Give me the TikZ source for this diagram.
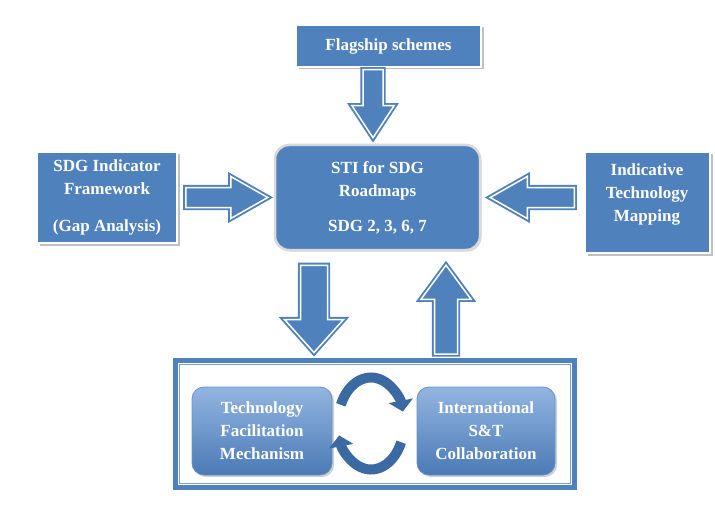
\documentclass[tikz,border=0pt]{standalone}
\usepackage{fontspec}
\setmainfont{Liberation Serif}
\usetikzlibrary{calc,shadows,arrows.meta}
\definecolor{ob}{HTML}{4F81BD}
\definecolor{obd}{HTML}{3B6AA3}
\definecolor{obl}{HTML}{93B5E0}
\definecolor{obm}{HTML}{6891CB}
\definecolor{obb}{HTML}{4A7AB6}
\begin{document}
\begin{tikzpicture}[x=1pt,y=-1pt,
  txt/.style={text=white, font=\fontsize{17}{23}\selectfont\bfseries, align=center},
  sqbox/.style={txt, rectangle, fill=ob, draw=white, line width=1.5pt, inner sep=0pt,
    drop shadow={shadow xshift=2.5pt, shadow yshift=-2.5pt, fill=black!35, opacity=0.7}},
  stibox/.style={txt, rectangle, rounded corners=14pt, fill=ob, draw=black!15, line width=2.5pt, inner sep=0pt,
    drop shadow={shadow xshift=1.5pt, shadow yshift=-1.5pt, fill=black!25, opacity=0.6}},
  rbox/.style={txt, rectangle, rounded corners=12pt, top color=obl, middle color=obm, bottom color=obb,
    draw=obm, line width=0.8pt, inner sep=0pt,
    drop shadow={shadow xshift=2pt, shadow yshift=-2pt, fill=black!30, opacity=0.6}},
  framebox/.style={rectangle, draw=ob, line width=5pt, fill=white, inner sep=0pt},
  arrowline/.style={fill=ob, draw=ob, double=white, line width=1.9pt, double distance=1.5pt, line join=miter},
  barrow/.style n args={3}{arrowline, to path={
    ($(\tikztostart)!#1!90:(\tikztotarget)$)
    -- ($(\tikztotarget)!#3!(\tikztostart)!#1!90:(\tikztotarget)$)
    -- ($(\tikztotarget)!#3!(\tikztostart)!#2!90:(\tikztotarget)$)
    -- (\tikztotarget)
    -- ($(\tikztotarget)!#3!(\tikztostart)!#2!-90:(\tikztotarget)$)
    -- ($(\tikztotarget)!#3!(\tikztostart)!#1!-90:(\tikztotarget)$)
    -- ($(\tikztostart)!#1!-90:(\tikztotarget)$)
    -- cycle}},
  cycarrow/.style={draw=obd, line width=10pt, -{Triangle[length=11pt,width=24pt]}}
]
\fill[white] (0,0) rectangle (715,516);
\useasboundingbox (0,0) rectangle (715,516);

% boxes
\node[sqbox, minimum width=185pt, minimum height=42pt] (fs) at (388.5,46) {Flagship schemes};
\node[sqbox, minimum width=140pt, minimum height=91pt] (sdg) at (107,197.5)
  {SDG Indicator\\Framework\\[14pt](Gap Analysis)};
\node[sqbox, minimum width=125pt, minimum height=101pt] (itm) at (647.5,202.5) {};
\node[txt] (itmt) at (647,194) {Indicative\\Technology\\Mapping};
\node[stibox, minimum width=205pt, minimum height=105pt] (sti) at (377.5,197.5)
  {STI for SDG\\Roadmaps\\[12pt]SDG 2, 3, 6, 7};

\node[framebox, minimum width=399pt, minimum height=127pt] (frame) at (375,424) {};
\draw[draw=ob!75!white, line width=1.4pt] ([shift={(6.5,6.5)}]frame.north west) rectangle ([shift={(-6.5,-6.5)}]frame.south east);

\node[rbox, minimum width=140pt, minimum height=88pt] (tfm) at (262,431)
  {Technology\\Facilitation\\Mechanism};
\node[rbox, minimum width=138pt, minimum height=88pt] (isc) at (486,431)
  {International\\S\&T\\Collaboration};

% cycle arrows
\coordinate (cyc) at (371,423.5);
\draw[cycarrow] (cyc) ++(204:33 and 46) arc[start angle=204, end angle=345, x radius=33, y radius=46];
\draw[cycarrow] (cyc) ++(24:33 and 46) arc[start angle=24, end angle=165, x radius=33, y radius=46];

% block arrows
\coordinate (a1s) at ([xshift=-15.5pt,yshift=-2pt]fs.south);
\coordinate (a1e) at ([xshift=-4.5pt,yshift=6pt]sti.north);
\coordinate (a2s) at ([xshift=8pt]sdg.east);
\coordinate (a2e) at ([xshift=-6pt]sti.west);
\coordinate (a3s) at ($(itm.west |- sti.west)+(-10,0)$);
\coordinate (a3e) at ([xshift=9pt]sti.east);
\coordinate (a4s) at ([xshift=-63.5pt,yshift=-14pt]sti.south);
\coordinate (a4e) at ([xshift=-61pt,yshift=5.5pt]frame.north);
\coordinate (a5s) at ([xshift=71pt,yshift=4pt]frame.north);
\coordinate (a5e) at ([xshift=68.5pt,yshift=-14pt]sti.south);

\draw[barrow={10pt}{21pt}{32pt}] (a1s) to (a1e);
\draw[barrow={10pt}{21pt}{37pt}] (a2s) to (a2e);
\draw[barrow={10pt}{21pt}{37pt}] (a3s) to (a3e);
\draw[barrow={13.5pt}{29.5pt}{33pt}] (a4s) to (a4e);
\draw[barrow={11.5pt}{25pt}{34pt}] (a5s) to (a5e);
\end{tikzpicture}
\end{document}
